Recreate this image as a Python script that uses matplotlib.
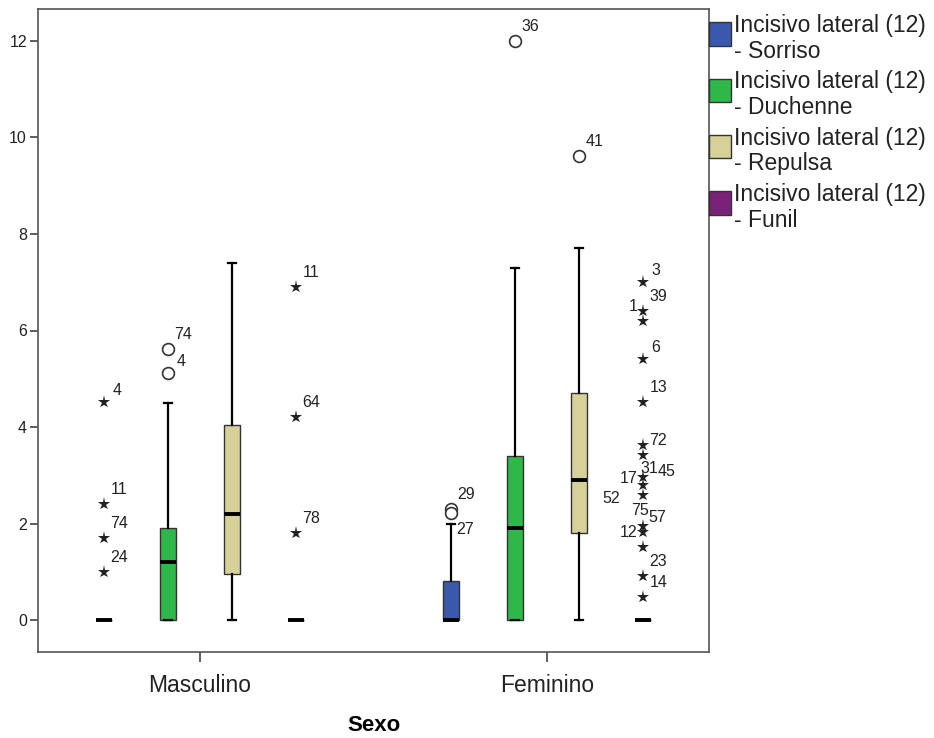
import matplotlib
matplotlib.use("Agg")
import matplotlib.pyplot as plt
from matplotlib.patches import Patch

plt.rcParams["font.family"] = ["Liberation Sans", "DejaVu Sans"]

# Dados (SPSS boxplot)
GROUPS = ["Masculino", "Feminino"]
SERIES = [
    "Incisivo lateral (12)\n- Sorriso",
    "Incisivo lateral (12)\n- Duchenne",
    "Incisivo lateral (12)\n- Repulsa",
    "Incisivo lateral (12)\n- Funil",
]
COLORS = ["#3A58AE", "#2FB84A", "#D6D099", "#7A2278"]

# estatísticas por grupo (linha) e série (coluna)
Q1 = [[0.0, 0.0, 0.95, 0.0], [0.0, 0.0, 1.80, 0.0]]
MEDIAN = [[0.0, 1.20, 2.20, 0.0], [0.0, 1.90, 2.90, 0.0]]
Q3 = [[0.0, 1.90, 4.05, 0.0], [0.80, 3.40, 4.70, 0.0]]
WHISK_LO = [[0.0, 0.0, 0.0, 0.0], [0.0, 0.0, 0.0, 0.0]]
WHISK_HI = [[0.0, 4.50, 7.40, 0.0], [2.00, 7.30, 7.70, 0.0]]

# outliers moderados (círculos): (grupo, série) -> [(valor, caso)]
MILD = {
    (0, 1): [(5.61, "74"), (5.12, "4")],
    (1, 0): [(2.30, "29"), (2.22, "27")],
    (1, 1): [(12.0, "36")],
    (1, 2): [(9.62, "41")],
}
# outliers extremos (estrelas)
EXTREME = {
    (0, 0): [(4.51, "4"), (2.40, "11"), (1.70, "74"), (1.00, "24")],
    (0, 3): [(6.91, "11"), (4.20, "64"), (1.80, "78")],
    (1, 3): [(7.00, "3"), (6.40, "39"), (6.20, "1"), (5.41, "6"), (4.51, "13"),
             (3.63, "72"), (3.41, "31"), (2.97, "45"), (2.80, "17"), (2.60, "52"),
             (1.95, "75"), (1.83, "57"), (1.52, "12"), (0.91, "23"), (0.48, "14")],
}

# deslocamentos especiais dos rótulos (pixels), resto segue o padrão
LABEL_OFFSETS = {
    (1, 3, "1"): (-14, 14), (1, 3, "72"): (6, 4), (1, 3, "31"): (-3, -13),
    (1, 3, "45"): (15, 5), (1, 3, "17"): (-23, 6), (1, 3, "52"): (-41, -4),
    (1, 3, "75"): (-12, 15), (1, 3, "57"): (5, 14), (1, 3, "12"): (-23, 14),
    (1, 0, "27"): (5, -17),
}

SERIES_OFFSETS = [-0.2767, -0.0922, 0.0922, 0.2767]
BOX_WIDTH = 0.046

fig = plt.figure(figsize=(9.34, 7.38), dpi=100)
ax = fig.add_axes([38 / 934, 1 - 652 / 738, (709 - 38) / 934, (652 - 9) / 738])

for g in range(len(GROUPS)):
    for s in range(len(SERIES)):
        x = g + SERIES_OFFSETS[s]
        stats = [{
            "med": MEDIAN[g][s], "q1": Q1[g][s], "q3": Q3[g][s],
            "whislo": WHISK_LO[g][s], "whishi": WHISK_HI[g][s], "fliers": [],
        }]
        ax.bxp(stats, positions=[x], widths=BOX_WIDTH, patch_artist=True,
               showfliers=False, capwidths=BOX_WIDTH / 2,
               boxprops=dict(facecolor=COLORS[s], edgecolor="#333333", linewidth=1.0),
               medianprops=dict(color="black", linewidth=2.8, solid_capstyle="butt"),
               whiskerprops=dict(color="black", linewidth=1.6),
               capprops=dict(color="black", linewidth=1.6))

        for kind, data in (("o", MILD), ("*", EXTREME)):
            for val, case in data.get((g, s), []):
                if kind == "o":
                    ax.plot(x, val, marker="o", mfc="white", mec="#333333",
                            ms=8.5, mew=1.2, zorder=4)
                else:
                    ax.plot(x, val, marker="*", color="#222222", ms=9.5,
                            mew=0, zorder=4)
                default = (8.5, 11.5) if len(case) == 1 else (6.5, 14.5)
                off = LABEL_OFFSETS.get((g, s, case), default)
                ax.annotate(case, (x, val), xytext=off, textcoords="offset pixels",
                            ha="left", va="center", fontsize=11.5, color="#222222")

ax.set_xlim(-0.467, 1.467)
ax.set_ylim(-0.663, 12.663)
ax.set_yticks(range(0, 13, 2))
ax.set_xticks(range(len(GROUPS)))
ax.set_xticklabels(GROUPS, fontsize=16.5, color="#222222")
ax.tick_params(axis="y", labelsize=11.5, length=6, width=1.1, color="#333333",
               labelcolor="#222222", pad=2)
ax.tick_params(axis="x", length=7, width=1.1, color="#333333", pad=8.5)
ax.set_xlabel("Sexo", fontsize=16, fontweight="bold", labelpad=13.5)
for sp in ax.spines.values():
    sp.set_color("#555555")
    sp.set_linewidth(1.2)

handles = [Patch(facecolor=c, edgecolor="#333333", linewidth=1.0) for c in COLORS]
leg = ax.legend(handles, SERIES, loc="upper left", bbox_to_anchor=(1.0, 0.992),
                frameon=False, fontsize=16.5, borderpad=0, borderaxespad=0,
                handlelength=0.96, handleheight=1.0, handletextpad=0.15,
                labelspacing=0.33)
for t in leg.get_texts():
    t.set_linespacing(1.15)
    t.set_color("#222222")
# no SPSS o quadrado fica alinhado mais perto da primeira linha
for p in leg.get_patches():
    p.set_y(p.get_y() + 3)
    p.set_height(p.get_height() + 2)

fig.savefig("out.png", dpi=100)
